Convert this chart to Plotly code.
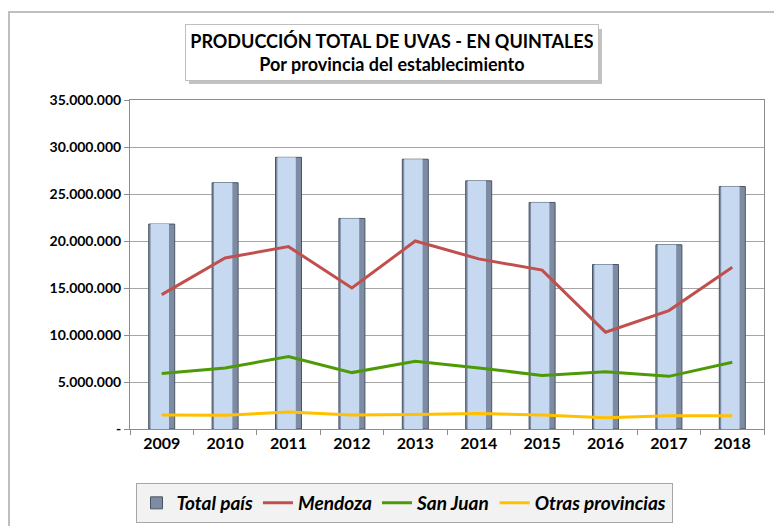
import plotly.graph_objects as go

years = ["2009", "2010", "2011", "2012", "2013", "2014", "2015", "2016", "2017", "2018"]
total_pais = [21.8e6, 26.2e6, 28.9e6, 22.4e6, 28.7e6, 26.4e6, 24.1e6, 17.5e6, 19.6e6, 25.8e6]
mendoza = [14.3e6, 18.2e6, 19.4e6, 15.0e6, 20.0e6, 18.1e6, 16.9e6, 10.3e6, 12.6e6, 17.2e6]
san_juan = [5.9e6, 6.5e6, 7.7e6, 6.0e6, 7.2e6, 6.5e6, 5.7e6, 6.1e6, 5.6e6, 7.1e6]
otras = [1.5e6, 1.45e6, 1.8e6, 1.5e6, 1.55e6, 1.65e6, 1.5e6, 1.2e6, 1.4e6, 1.4e6]

y_tickvals = [0, 5e6, 10e6, 15e6, 20e6, 25e6, 30e6, 35e6]
y_ticktext = ["-", "5.000.000", "10.000.000", "15.000.000", "20.000.000",
              "25.000.000", "30.000.000", "35.000.000"]

FONT = "Lato"
W, H = 782, 526
OFF = 8  # page body margin offset
# plot area in window pixels
PL, PR, PT, PB = 130, 764, 100, 429
L = PL - OFF
T = PT - OFF
R = W - (PR - OFF)
B = H - (PB - OFF)
PW = PR - PL
PH = PB - PT


def px(xw):
    return (xw - PL) / PW


def py(yw):
    return (PB - yw) / PH


fig = go.Figure()

# bevelled bar look: dark base + light face
fig.add_trace(go.Bar(x=years, y=total_pais, width=0.41, name="Total país",
                     marker=dict(color="#7D8CA3", line=dict(color="#4A5563", width=1)),
                     showlegend=True, legendrank=1))
fig.add_trace(go.Bar(x=years, y=total_pais, width=0.29, offset=-0.175,
                     marker=dict(color="#C6D9F1", line=dict(width=0)),
                     showlegend=False, hoverinfo="skip"))

fig.add_trace(go.Scatter(x=years, y=mendoza, mode="lines", name="Mendoza",
                         line=dict(color="#C0504D", width=3), legendrank=2))
fig.add_trace(go.Scatter(x=years, y=san_juan, mode="lines", name="San Juan",
                         line=dict(color="#4E9A06", width=3), legendrank=3))
fig.add_trace(go.Scatter(x=years, y=otras, mode="lines", name="Otras provincias",
                         line=dict(color="#FFC000", width=3), legendrank=4))

fig.update_layout(
    width=W, height=H,
    margin=dict(l=L, r=R, t=T, b=B, autoexpand=False),
    paper_bgcolor="white", plot_bgcolor="white",
    barmode="overlay",
    font=dict(family=FONT, color="black"),
    showlegend=True,
    legend=dict(orientation="h", x=px(404), y=py(483), xanchor="center", yanchor="top",
                bgcolor="#F2F2F2", bordercolor="#A6A6A6", borderwidth=1,
                font=dict(family=FONT, size=19, color="black", style="italic", weight="bold"),
                itemwidth=30, traceorder="normal", tracegroupgap=0),
    xaxis=dict(type="category", showgrid=False, showline=True, linecolor="#8C8C8C",
               mirror=True, ticks="outside", tickson="boundaries", ticklen=5,
               tickcolor="#8C8C8C",
               tickfont=dict(family=FONT, size=16, color="black", weight="bold"),
               range=[-0.5, 9.5]),
    yaxis=dict(range=[0, 35e6], tickvals=y_tickvals, ticktext=y_ticktext,
               showgrid=True, gridcolor="#A6A6A6", gridwidth=1,
               showline=True, linecolor="#8C8C8C", mirror=True,
               ticks="outside", ticklen=5, tickcolor="#8C8C8C",
               tickfont=dict(family=FONT, size=14, color="black", weight="bold"),
               zeroline=False),
)

# outer chart frame
fig.add_shape(type="rect", xref="paper", yref="paper",
              x0=px(9), x1=px(800), y0=py(545), y1=py(12),
              line=dict(color="#BFBFBF", width=2), fillcolor="rgba(0,0,0,0)", layer="below")

# title box shadow
fig.add_shape(type="rect", xref="paper", yref="paper",
              x0=px(189), x1=px(602), y0=py(84), y1=py(29),
              line=dict(width=0), fillcolor="rgba(120,120,120,0.45)", layer="above")

fig.add_annotation(
    xref="paper", yref="paper", x=px(391.5), y=py(52.5),
    xanchor="center", yanchor="middle",
    text="<b>PRODUCCIÓN TOTAL DE UVAS - EN QUINTALES</b><br><b>Por provincia del establecimiento</b>",
    showarrow=False, align="center",
    font=dict(family=FONT, size=18, color="black"),
    bgcolor="white", bordercolor="#BFBFBF", borderwidth=1, borderpad=5,
    width=402,
)

fig.write_html("out.html")
